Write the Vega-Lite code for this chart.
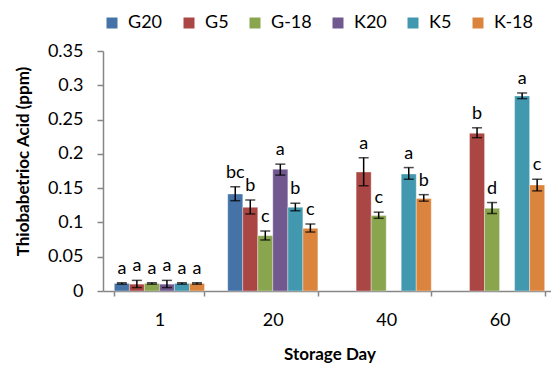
{
  "$schema": "https://vega.github.io/schema/vega-lite/v6.json",
  "width": 448,
  "height": 240,
  "autosize": {"type": "none"},
  "padding": {"left": 103, "top": 51, "right": 0, "bottom": 75},
  "background": "white",
  "config": {
    "view": {"stroke": null},
    "font": "Lato",
    "axis": {"domainColor": "#868686", "tickColor": "#868686", "domainWidth": 1.5, "tickWidth": 1.5, "labelColor": "#000000", "titleColor": "#000000", "labelFont": "Lato", "titleFont": "Lato", "labelFontSize": 18, "titleFontSize": 17, "titleFontWeight": "bold", "grid": false}
  },
  "data": {
    "values": [
      {"day": "1", "series": "G20", "value": 0.011, "lo": 0.010, "hi": 0.012, "letter": "a"},
      {"day": "1", "series": "G5", "value": 0.010, "lo": 0.005, "hi": 0.0155, "letter": "a"},
      {"day": "1", "series": "G-18", "value": 0.011, "lo": 0.010, "hi": 0.012, "letter": "a"},
      {"day": "1", "series": "K20", "value": 0.010, "lo": 0.005, "hi": 0.0155, "letter": "a"},
      {"day": "1", "series": "K5", "value": 0.011, "lo": 0.010, "hi": 0.012, "letter": "a"},
      {"day": "1", "series": "K-18", "value": 0.011, "lo": 0.010, "hi": 0.012, "letter": "a"},
      {"day": "20", "series": "G20", "value": 0.1415, "lo": 0.1317, "hi": 0.152, "letter": "bc"},
      {"day": "20", "series": "G5", "value": 0.122, "lo": 0.1123, "hi": 0.1327, "letter": "b"},
      {"day": "20", "series": "G-18", "value": 0.0807, "lo": 0.0744, "hi": 0.0875, "letter": "c"},
      {"day": "20", "series": "K20", "value": 0.1775, "lo": 0.169, "hi": 0.185, "letter": "a"},
      {"day": "20", "series": "K5", "value": 0.122, "lo": 0.117, "hi": 0.128, "letter": "b"},
      {"day": "20", "series": "K-18", "value": 0.0914, "lo": 0.086, "hi": 0.0977, "letter": "c"},
      {"day": "40", "series": "G5", "value": 0.1735, "lo": 0.1536, "hi": 0.1944, "letter": "a"},
      {"day": "40", "series": "G-18", "value": 0.110, "lo": 0.106, "hi": 0.115, "letter": "c"},
      {"day": "40", "series": "K5", "value": 0.1706, "lo": 0.163, "hi": 0.180, "letter": "a"},
      {"day": "40", "series": "K-18", "value": 0.135, "lo": 0.131, "hi": 0.1405, "letter": "b"},
      {"day": "60", "series": "G5", "value": 0.230, "lo": 0.2236, "hi": 0.238, "letter": "b"},
      {"day": "60", "series": "G-18", "value": 0.1206, "lo": 0.113, "hi": 0.129, "letter": "d"},
      {"day": "60", "series": "K5", "value": 0.2844, "lo": 0.2805, "hi": 0.2888, "letter": "a"},
      {"day": "60", "series": "K-18", "value": 0.1546, "lo": 0.146, "hi": 0.163, "letter": "c"}
    ]
  },
  "encoding": {
    "x": {
      "field": "day", "type": "ordinal", "sort": ["1", "20", "40", "60"],
      "title": "Storage Day",
      "scale": {"range": [0, 453], "paddingInner": 0.205, "paddingOuter": 0.1},
      "axis": {"labelAngle": 0, "tickBand": "extent", "tickSize": 5, "labelPadding": 15, "titleBaseline": "middle", "titleY": 63}
    },
    "xOffset": {
      "field": "series", "type": "nominal",
      "scale": {"domain": ["G20", "G5", "G-18", "K20", "K5", "K-18"], "paddingInner": 0, "paddingOuter": 0}
    }
  },
  "layer": [
    {
      "mark": {"type": "bar", "stroke": "#ffffff", "strokeOpacity": 0.35, "strokeWidth": 1},
      "encoding": {
        "y": {
          "field": "value", "type": "quantitative", "title": "Thiobabetrioc Acid (ppm)",
          "scale": {"domain": [0, 0.35], "nice": false, "zero": true},
          "axis": {"values": [0, 0.05, 0.1, 0.15, 0.2, 0.25, 0.3, 0.35], "format": ".2~f", "labelOverlap": false, "tickSize": 6, "labelPadding": 14, "titleX": -80, "titleY": 110, "titleBaseline": "middle"}
        },
        "color": {
          "field": "series", "type": "nominal",
          "scale": {"domain": ["G20", "G5", "G-18", "K20", "K5", "K-18"], "range": ["#4572A7", "#AA4643", "#89A54E", "#71588F", "#4198AF", "#DB843D"]},
          "legend": {"orient": "none", "direction": "horizontal", "legendX": 0, "legendY": -37, "title": null, "symbolType": "square", "symbolSize": 121, "symbolStrokeWidth": 0, "labelFontSize": 18, "labelFont": "Lato", "labelOffset": 7, "columnPadding": 17, "padding": 0}
        }
      }
    },
    {
      "mark": {"type": "rule", "color": "#000000", "strokeWidth": 1.5},
      "encoding": {
        "y": {
          "field": "lo", "type": "quantitative", "title": "Thiobabetrioc Acid (ppm)",
          "scale": {"domain": [0, 0.35], "nice": false, "zero": true},
          "axis": {"values": [0, 0.05, 0.1, 0.15, 0.2, 0.25, 0.3, 0.35], "format": ".2~f", "labelOverlap": false, "tickSize": 6, "labelPadding": 14, "titleX": -80, "titleY": 110, "titleBaseline": "middle"}
        },
        "y2": {"field": "hi"}
      }
    },
    {
      "mark": {"type": "tick", "color": "#000000", "size": 10, "thickness": 1.5},
      "encoding": {
        "y": {
          "field": "lo", "type": "quantitative", "title": "Thiobabetrioc Acid (ppm)",
          "scale": {"domain": [0, 0.35], "nice": false, "zero": true},
          "axis": {"values": [0, 0.05, 0.1, 0.15, 0.2, 0.25, 0.3, 0.35], "format": ".2~f", "labelOverlap": false, "tickSize": 6, "labelPadding": 14, "titleX": -80, "titleY": 110, "titleBaseline": "middle"}
        }
      }
    },
    {
      "mark": {"type": "tick", "color": "#000000", "size": 10, "thickness": 1.5},
      "encoding": {
        "y": {
          "field": "hi", "type": "quantitative", "title": "Thiobabetrioc Acid (ppm)",
          "scale": {"domain": [0, 0.35], "nice": false, "zero": true},
          "axis": {"values": [0, 0.05, 0.1, 0.15, 0.2, 0.25, 0.3, 0.35], "format": ".2~f", "labelOverlap": false, "tickSize": 6, "labelPadding": 14, "titleX": -80, "titleY": 110, "titleBaseline": "middle"}
        }
      }
    },
    {
      "mark": {"type": "text", "baseline": "alphabetic", "dy": -9, "fontSize": 18, "font": "Lato", "color": "#000000"},
      "encoding": {
        "y": {
          "field": "hi", "type": "quantitative", "title": "Thiobabetrioc Acid (ppm)",
          "scale": {"domain": [0, 0.35], "nice": false, "zero": true},
          "axis": {"values": [0, 0.05, 0.1, 0.15, 0.2, 0.25, 0.3, 0.35], "format": ".2~f", "labelOverlap": false, "tickSize": 6, "labelPadding": 14, "titleX": -80, "titleY": 110, "titleBaseline": "middle"}
        },
        "text": {"field": "letter"}
      }
    }
  ]
}
